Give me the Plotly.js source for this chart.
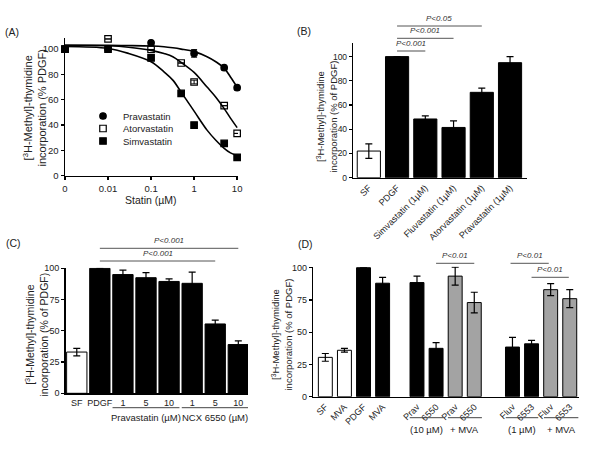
<!DOCTYPE html>
<html>
<head>
<meta charset="utf-8">
<script src="https://cdn.plot.ly/plotly-3.0.1.min.js"></script>
<style>
  html, body { margin: 0; padding: 0; background: #fff; }
  #plot { width: 600px; height: 450px; }
</style>
</head>
<body>
<div id="plot"></div>
<script>
// (A) dose response, doses in µM (0 is drawn at the 0.001 position of the log axis)
const doseTickVals = [0.001, 0.01, 0.1, 1, 10];
const doseTickText = ["0", "0.01", "0.1", "1", "10"];

const pravaDose = [0, 0.01, 0.1, 1, 5, 10];
const pravaVal = [100, 100, 105, 96.6, 85.3, 69.5];
const pravaErr = [0, 0, 0, 3, 0, 0];

const atorvaDose = [0, 0.01, 0.1, 0.5, 1, 5, 10];
const atorvaVal = [100, 108, 99.7, 89, 74, 55.3, 33.4];
const atorvaErr = [0, 0, 0, 0, 1.5, 0, 0];

const simvaDose = [0, 0.01, 0.1, 0.5, 1, 5, 10];
const simvaVal = [100, 100, 93, 65, 40, 25.5, 14.5];

// fitted curves
const fitDose = [0.001, 0.01, 0.03, 0.1, 0.2, 0.32, 0.5, 1, 2, 3.2, 5, 7, 10];
const pravaFit = [103, 103, 102.8, 102.4, 101.8, 101, 100, 98, 94, 90, 85, 78, 70];
const atorvaFit = [103, 102.6, 101.5, 99, 96.5, 94, 89.5, 81.6, 70, 62, 53, 45.5, 38];
const simvaFit = [102, 100.5, 96.6, 90, 82, 75.5, 66, 51, 36, 28, 21.6, 18, 15.8];

// (B)
const bLabels = ["SF", "PDGF", "Simvastatin (1µM)", "Fluvastatin (1µM)", "Atorvastatin (1µM)", "Pravastatin (1µM)"];
const bVal = [22, 100, 48.5, 41.5, 70.5, 95];
const bErr = [6, 0, 2.5, 5.5, 3.5, 5];
const bColor = ["white", "black", "black", "black", "black", "black"];

// (C)
const cLabels = ["SF", "PDGF", "1", "5", "10", "1", "5", "10"];
const cVal = [33, 100, 95, 92.5, 89.5, 88, 55.5, 39];
const cErr = [3, 0, 3.5, 4, 2, 9, 3, 3];
const cColor = ["white", "black", "black", "black", "black", "black", "black", "black"];

// (D)
const dPos = [0, 1, 2, 3, 4.8, 5.8, 6.8, 7.8, 9.8, 10.8, 11.8, 12.8];
const dLabels = ["SF", "MVA", "PDGF", "MVA", "Prav", "6550", "Prav", "6550", "Fluv", "6553", "Fluv", "6553"];
const dVal = [30.5, 36, 100, 88, 88.5, 37.5, 93.5, 73, 38.5, 41, 83, 76];
const dErr = [3, 1.5, 0, 4.5, 5, 4.4, 7, 8, 7.5, 2.7, 4.7, 7];
const dColor = ["white", "white", "black", "black", "black", "black", "#a3a3a3", "#a3a3a3", "black", "black", "#a3a3a3", "#a3a3a3"];

const FONT = "Liberation Sans, Arial, sans-serif";
const NARROW = "Liberation Sans Narrow, Arial Narrow, Liberation Sans, sans-serif";
const toPlot = d => (d === 0 ? 0.001 : d);
const px = v => v / 600;          // horizontal pixel -> paper
const py = v => 1 - v / 450;      // vertical pixel -> paper

const lineMarkers = (name, dose, val, sym, legend, err) => ({
  type: "scatter", mode: "markers", name: name, legend: legend,
  xaxis: "x", yaxis: "y",
  x: dose.map(toPlot), y: val,
  marker: { symbol: sym, size: 6.5, color: "black", line: { color: "black", width: 1.2 } },
  error_y: err ? { type: "data", array: err, color: "black", thickness: 1, width: 3 } : undefined,
  cliponaxis: false
});
const fitLine = (vals) => ({
  type: "scatter", mode: "lines", showlegend: false,
  xaxis: "x", yaxis: "y",
  x: fitDose, y: vals,
  line: { color: "black", width: 1.6, shape: "spline", smoothing: 1 }
});
const barTrace = (xs, vals, errs, colors, width, xa, ya) => ({
  type: "bar", showlegend: false, xaxis: xa, yaxis: ya,
  x: xs, y: vals, width: width,
  marker: { color: colors, line: { color: "black", width: 1 } },
  error_y: { type: "data", array: errs, color: "black", thickness: 1.2, width: 3.5 }
});

const data = [
  fitLine(pravaFit), fitLine(atorvaFit), fitLine(simvaFit),
  lineMarkers("Pravastatin", pravaDose, pravaVal, "circle", "legend", pravaErr),
  lineMarkers("Atorvastatin", atorvaDose, atorvaVal, "square-open", "legend2", atorvaErr),
  lineMarkers("Simvastatin", simvaDose, simvaVal, "square", "legend3"),
  barTrace(bLabels.map((_, i) => i), bVal, bErr, bColor, 0.82, "x2", "y2"),
  barTrace(cLabels.map((_, i) => i), cVal, cErr, cColor, 0.88, "x3", "y3"),
  barTrace(dPos, dVal, dErr, dColor, 0.73, "x4", "y4")
];

const tickFont = (size) => ({ family: NARROW, size: size, color: "#222" });
const axBase = (size) => ({
  showline: true, linecolor: "black", linewidth: 1.5, showgrid: false, zeroline: false,
  ticks: "outside", ticklen: 3, tickwidth: 1.3, tickcolor: "black", tickfont: tickFont(size), fixedrange: true
});
const catAxis = (domain, range, vals, text, angle, anchor, size) => Object.assign(axBase(size), {
  domain: domain, range: range, tickvals: vals, ticktext: text, tickangle: angle, ticks: "", anchor: anchor
});

const legendBox = (y) => ({
  x: px(83), y: py(y), xanchor: "left", yanchor: "middle",
  font: { family: NARROW, size: 9.5, color: "#222" }, bgcolor: "rgba(0,0,0,0)", itemwidth: 30
});

// significance brackets and underlines
const shapes = [];
const annotations = [];
function bracket(xa, x0, x1, yPx, label, color, w) {
  shapes.push({ type: "line", xref: xa, yref: "paper", x0: x0, x1: x1, y0: py(yPx), y1: py(yPx),
    line: { color: color || "#555", width: w || 1 } });
  if (label) annotations.push({ xref: xa, yref: "paper", x: (x0 + x1) / 2, y: py(yPx - 1), yanchor: "bottom",
    text: "<i>" + label + "</i>", showarrow: false, font: { family: FONT, size: 8, color: "#333" } });
}
function underline(xa, x0, x1, yPx, label, textYPx) {
  shapes.push({ type: "line", xref: xa, yref: "paper", x0: x0, x1: x1, y0: py(yPx), y1: py(yPx),
    line: { color: "#444", width: 1 } });
  annotations.push({ xref: xa, yref: "paper", x: (x0 + x1) / 2, y: py(textYPx), yanchor: "middle",
    text: label, showarrow: false, font: { family: NARROW, size: 9.5, color: "#222" } });
}
function text(xPx, yPx, s, size, angle) {
  annotations.push({ xref: "paper", yref: "paper", x: px(xPx), y: py(yPx), xanchor: "center", yanchor: "middle",
    text: s, showarrow: false, textangle: angle || 0, font: { family: FONT, size: size || 11, color: "#222" } });
}

// (B)
bracket("x2", 1, 2, 51, "P&lt;0.001", "#888", 1.6);
bracket("x2", 1, 3, 38.3, "P&lt;0.001");
bracket("x2", 1, 4, 26, "P&lt;0.05");
// (C)
bracket("x3", 1, 7, 248.3, "P&lt;0.001");
bracket("x3", 1, 6, 261, "P&lt;0.001");
underline("x3", 1.55, 4.45, 407.7, "Pravastatin (µM)", 417.7);
underline("x3", 4.55, 7.45, 407.7, "NCX 6550 (µM)", 417.7);
// (D)
bracket("x4", 5.8, 7.8, 263.3, "P&lt;0.01");
bracket("x4", 9.7, 11.7, 263.3, "P&lt;0.01");
bracket("x4", 10.8, 12.75, 277.3, "P&lt;0.01");
underline("x4", 4.42, 6.18, 417.7, "(10 µM)", 429);
underline("x4", 6.42, 8.2, 417.7, "+ MVA", 429);
underline("x4", 9.45, 11.15, 417.7, "(1 µM)", 429);
underline("x4", 11.45, 13.25, 417.7, "+ MVA", 429);

// panel letters and axis titles
text(12, 32, "(A)", 10.5); text(304, 31, "(B)", 10.5); text(13, 243, "(C)", 10.5); text(305, 244, "(D)", 10.5);
text(151, 200, "Statin (µM)", 10.5);
text(34.5, 108, "[<sup>3</sup>H-Methyl]-thymidine<br>incorporation (% PDGF)", 11, -90);
text(326.5, 117, "[<sup>3</sup>H-Methyl]-thymidine<br>incorporation (% of PDGF)", 9.5, -90);
text(35.5, 335, "[<sup>3</sup>H-Methyl]-thymidine<br>incorporation (% of PDGF)", 10.5, -90);
text(281.5, 335, "[<sup>3</sup>H-Methyl]-thymidine<br>incorporation (% of PDGF)", 9.5, -90);

const layout = {
  width: 600, height: 450,
  margin: { l: 0, r: 0, t: 0, b: 0 },
  paper_bgcolor: "white", plot_bgcolor: "white",
  font: { family: FONT, color: "#222" },
  showlegend: true,
  legend: legendBox(116), legend2: legendBox(128.5), legend3: legendBox(141),
  xaxis: Object.assign(axBase(9.5), { domain: [px(65), px(238)], type: "log", range: [-3, 1.02],
    tickvals: doseTickVals, ticktext: doseTickText, anchor: "y" }),
  yaxis: Object.assign(axBase(9.5), { domain: [py(175.7), py(37.7)], range: [0, 109],
    tickvals: [0, 20, 40, 60, 80, 100], anchor: "x" }),
  xaxis2: catAxis([px(353.3), px(526.7)], [-0.55, 5.59], bLabels.map((_, i) => i), bLabels, -45, "y2", 9),
  yaxis2: Object.assign(axBase(8.5), { domain: [py(177.7), py(43.3)], range: [0, 111],
    tickvals: [0, 20, 40, 60, 80, 100], anchor: "x2" }),
  xaxis3: catAxis([px(65.7), px(248)], [-0.48, 7.42], cLabels.map((_, i) => i), cLabels, 0, "y3", 9),
  yaxis3: Object.assign(axBase(9), { domain: [py(393.3), py(267.7)], range: [0, 100.5],
    tickvals: [0, 25, 50, 75, 100], anchor: "x3" }),
  xaxis4: catAxis([px(313.3), px(579.3)], [-0.63, 13.3], dPos, dLabels, -45, "y4", 9),
  yaxis4: Object.assign(axBase(9), { domain: [py(396.7), py(266.7)], range: [0, 100.8],
    tickvals: [0, 25, 50, 75, 100], anchor: "x4" }),
  shapes: shapes,
  annotations: annotations
};

Plotly.newPlot("plot", data, layout, { staticPlot: true });
</script>
</body>
</html>
